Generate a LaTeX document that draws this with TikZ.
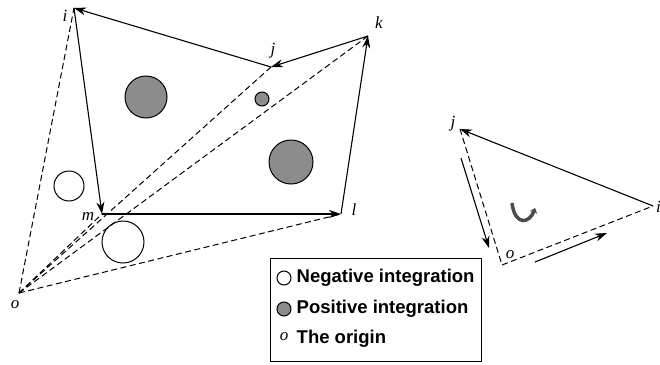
\documentclass[tikz,border=0pt]{standalone}
\usepackage{fontspec}
\setmainfont{Liberation Serif}
\setsansfont{Liberation Sans}
\usetikzlibrary{arrows.meta, positioning}

\begin{document}
\begin{tikzpicture}[
        x=1pt, y=-1pt,
        >={Stealth[length=12pt, width=8pt]},
        font=\fontsize{17}{19}\selectfont\itshape,
        % styles
        edgeline/.style={line width=1.1pt, ->},
        radial/.style={line width=1pt, dash pattern=on 6pt off 3.5pt},
        poscirc/.style={circle, draw, line width=1pt, fill=black!45, inner sep=0pt},
        negcirc/.style={circle, draw, line width=1pt, inner sep=0pt},
        vlabel/.style={inner sep=1pt},
        legendtext/.style={font=\sffamily\bfseries\fontsize{18.5}{20}\selectfont, anchor=west, inner sep=0pt}
    ]
    \useasboundingbox (0,0) rectangle (660,364);

    % --- vertices of the polygon ---
    \coordinate (o) at (19,293);
    \coordinate (i) at (74,8);
    \coordinate (j) at (271,67);
    \coordinate (k) at (368,36);
    \coordinate (l) at (341,214);
    \coordinate (m) at (102,214);

    % --- integration circles ---
    \node[poscirc, minimum size=42pt] (pos1) at (146,97) {};
    \node[poscirc, minimum size=14pt] (pos2) at (262,99) {};
    \node[poscirc, minimum size=44pt] (pos3) at (291,162) {};
    \node[negcirc, minimum size=30pt] (neg1) at (69,186) {};
    \node[negcirc, minimum size=42pt] (neg2) at (123,242) {};

    % --- dashed rays from the origin ---
    \foreach \v in {i,m,j,k,l}
        \draw[radial] (o) -- (\v);

    % --- polygon edges ---
    \draw[edgeline] (i) -- (m);
    \draw[edgeline] (m) -- (l);
    \draw[edgeline] (l) -- (k);
    \draw[edgeline] (k) -- (j);
    \draw[edgeline] (j) -- (i);

    % --- vertex labels ---
    \node[vlabel] (labi) at (65,16) {i};
    \node[vlabel] (labj) at (273,51) {j};
    \node[vlabel] (labk) at (379,23) {k};
    \node[vlabel] (labl) at (354,210) {l};
    \node[vlabel] (labm) at (88,216) {m};
    \node[vlabel] (labo) at (15,305) {o};

    % --- single triangle ---
    \coordinate (oo) at (502,265);
    \coordinate (jj) at (460,129);
    \coordinate (ii) at (653,206);
    \draw[edgeline] (ii) -- (jj);
    \draw[radial] (jj) -- (oo) -- (ii);
    \coordinate (down1) at (461,158);
    \coordinate (down2) at (489,248);
    \coordinate (side1) at (535,262);
    \coordinate (side2) at (607,233);
    \draw[edgeline] (down1) -- (down2);
    \draw[edgeline] (side1) -- (side2);
    \node[vlabel] (labjj) at (453,124) {j};
    \node[vlabel, anchor=west] (labii) at (655,207) {i};
    \node[vlabel] (laboo) at (510,255) {o};

    % rotation sign
    \draw[line width=3.5pt, black!70, -{Stealth[length=5pt, width=8pt]}]
        (512,203) .. controls (515,227) and (530,223) .. (535,208);

    % --- legend ---
    \node[draw, line width=1pt, minimum width=211pt, minimum height=103pt, inner sep=0pt] (legend) at (375.5,309.5) {};
    \node[negcirc, minimum size=14pt] (legneg) at (284,278) {};
    \node[poscirc, minimum size=14pt] (legpos) at (284,309) {};
    \node[vlabel] (legorg) at (284,337) {o};
    \node[legendtext, right=5pt of legneg] (txtneg) {Negative integration};
    \node[legendtext, right=5pt of legpos] (txtpos) {Positive integration};
    \node[legendtext] (txtorg) at (txtpos.west |- 0,339) {The origin};

\end{tikzpicture}
\end{document}
